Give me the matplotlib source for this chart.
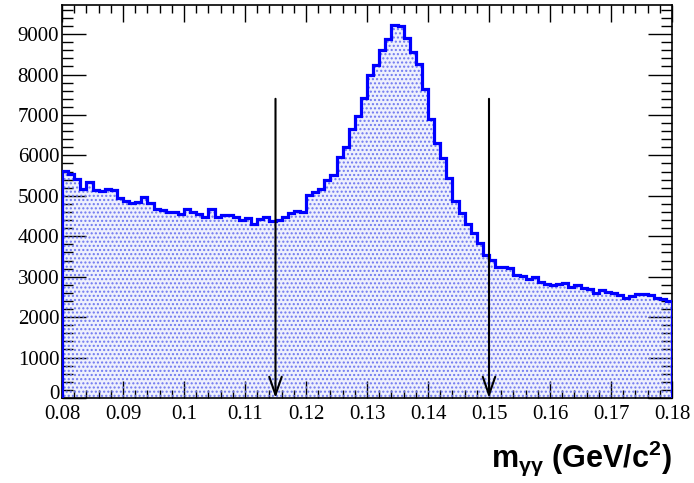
import numpy as np
import matplotlib
matplotlib.use("Agg")
import matplotlib.pyplot as plt
import matplotlib.transforms as mtransforms
from matplotlib.ticker import MultipleLocator

# histogram: 100 bins from 0.08 to 0.18
x_min, x_max, n_bins = 0.08, 0.18, 100
counts = [
    5620, 5540, 5415, 5176, 5350, 5143, 5120, 5168, 5143, 4938,
    4880, 4830, 4855, 4963, 4830, 4681, 4649, 4607, 4600, 4550,
    4681, 4600, 4550, 4484, 4666, 4484, 4517, 4517, 4484, 4400,
    4443, 4300, 4418, 4484, 4385, 4400, 4484, 4583, 4633, 4600,
    5020, 5102, 5160, 5390, 5514, 5967, 6215, 6644, 6973, 7410,
    7987, 8234, 8605, 8870, 9224, 9200, 8894, 8564, 8260, 7634,
    6892, 6313, 5927, 5432, 4880, 4567, 4303, 4072, 3825, 3536,
    3412, 3247, 3247, 3207, 3041, 3017, 2935, 2984, 2876, 2819,
    2794, 2811, 2852, 2737, 2794, 2712, 2688, 2604, 2671, 2629,
    2589, 2547, 2465, 2522, 2572, 2572, 2547, 2465, 2448, 2406,
]
cut_positions = [0.115, 0.150]
cut_top = 7400
y_max = 9720

edges = np.linspace(x_min, x_max, n_bins + 1)

plt.rcParams['hatch.linewidth'] = 1.0
plt.rcParams['mathtext.fontset'] = 'custom'
plt.rcParams['mathtext.rm'] = 'Liberation Sans:bold'
plt.rcParams['mathtext.it'] = 'Liberation Sans:bold'
plt.rcParams['mathtext.bf'] = 'Liberation Sans:bold'
plt.rcParams['mathtext.default'] = 'regular'

fig = plt.figure(figsize=(6.94, 4.83), dpi=100)
ax = fig.add_axes([62/694, 1-398/483, 610/694, 393/483])

# dotted fill
ax.stairs(counts, edges, fill=True, facecolor='#eef0fd', edgecolor='none', zorder=1)
ax.stairs(counts, edges, fill=True, facecolor='none', edgecolor='#6f78f0',
          hatch='....', linewidth=0, zorder=2)
# outline
ax.stairs(counts, edges, color='#0000ff', linewidth=2.3, zorder=3)

# cut arrows
for xc in cut_positions:
    ax.annotate('', xy=(xc, 0), xytext=(xc, cut_top),
                arrowprops=dict(arrowstyle='->,head_length=1.3,head_width=0.45',
                                color='black', lw=1.5, shrinkA=0, shrinkB=0),
                zorder=5)

ax.set_xlim(x_min, x_max)
ax.set_ylim(0, y_max)

ax.xaxis.set_major_locator(MultipleLocator(0.01))
ax.xaxis.set_minor_locator(MultipleLocator(0.002))
ax.yaxis.set_major_locator(MultipleLocator(1000))
ax.yaxis.set_minor_locator(MultipleLocator(200))
ax.tick_params(which='both', direction='in', top=True, right=True, color='black')
ax.tick_params(which='major', length=17, width=1)
ax.tick_params(which='minor', length=8, width=1)
ax.tick_params(axis='x', which='major', length=12)
ax.tick_params(axis='x', which='minor', length=6)
ax.tick_params(axis='both', labelsize=15, pad=2)
ax.tick_params(axis='x', pad=5)

xt = [0.08 + 0.01*i for i in range(11)]
ax.set_xticks(xt)
ax.set_xticklabels(['%g' % round(v, 2) for v in xt], family='Liberation Serif')
ax.set_yticks(np.arange(0, 10000, 1000))
ax.set_yticklabels([str(v) for v in range(0, 10000, 1000)], family='Liberation Serif')

# lift the "0" label slightly so it does not collide with "0.08"
zero_lbl = ax.get_yticklabels()[0]
zero_lbl.set_transform(zero_lbl.get_transform() +
                       mtransforms.ScaledTranslation(0, 6/100, fig.dpi_scale_trans))

for sp in ax.spines.values():
    sp.set_linewidth(1.2)

fig.text(672/694, 1-458/483, r'm$_{\gamma\gamma}$ (GeV/c$^{2}$)',
         ha='right', va='center', fontsize=22, fontweight='bold',
         family='Liberation Sans')

fig.savefig('out.png', dpi=100)
